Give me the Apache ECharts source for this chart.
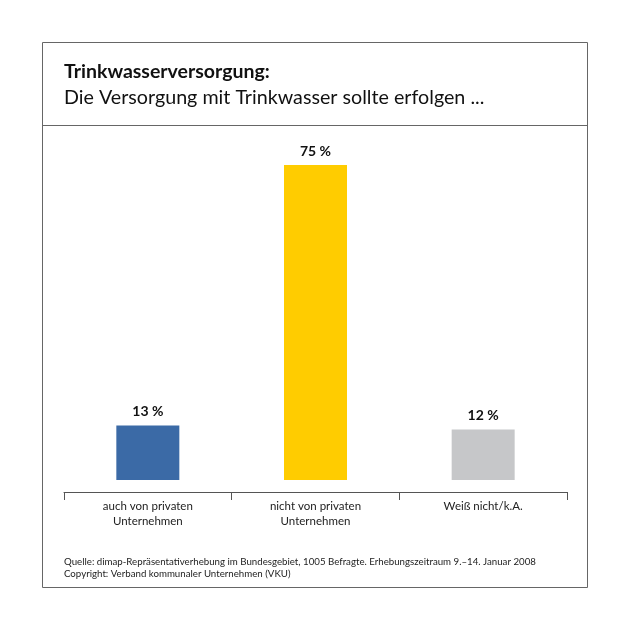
<!DOCTYPE html>
<html><head><meta charset="utf-8">
<script src="https://cdn.jsdelivr.net/npm/echarts@6/dist/echarts.min.js"></script>
<style>html,body{margin:0;padding:0;background:#fff}#c{width:630px;height:630px}</style>
</head><body><div id="c"></div>
<script>
const categories = ['auch von privaten\nUnternehmen', 'nicht von privaten\nUnternehmen', 'Weiß nicht/k.A.'];
const values = [13, 75, 12];
const colors = ['#3b6aa6', '#ffcc00', '#c6c7c9'];
const titleText = 'Trinkwasserversorgung:';
const subtitleText = 'Die Versorgung mit Trinkwasser sollte erfolgen ...';
const sourceLines = ['Quelle: dimap-Repräsentativerhebung im Bundesgebiet, 1005 Befragte. Erhebungszeitraum 9.–14. Januar 2008', 'Copyright: Verband kommunaler Unternehmen (VKU)'];

const FONT = 'Lato';
const chart = echarts.init(document.getElementById('c'));
chart.setOption({
  animation: false,
  grid: { left: 64, right: 63, top: 144, bottom: 150 },
  xAxis: {
    type: 'category', data: categories, offset: 12,
    axisLine: { onZero: false, lineStyle: { color: '#555', width: 1 } },
    axisTick: { show: true, inside: false, length: 8, lineStyle: { color: '#555' } },
    axisLabel: { color: '#222', fontFamily: FONT, fontSize: 11.5, lineHeight: 15, margin: 7 }
  },
  yAxis: { type: 'value', min: 0, max: 80, show: false, splitLine: { show: false } },
  series: [{
    type: 'bar', barWidth: 63,
    data: values.map((v, i) => ({ value: v, itemStyle: { color: colors[i] } })),
    label: { show: true, position: 'top', distance: 7, formatter: p => p.value + ' %', color: '#111', fontFamily: FONT, fontSize: 14, fontWeight: 'bold' }
  }],
  graphic: [
    { type: 'rect', shape: { x: 42.5, y: 42.5, width: 545, height: 545 }, style: { fill: 'none', stroke: '#666', lineWidth: 1 } },
    { type: 'line', shape: { x1: 42.5, y1: 125.5, x2: 587.5, y2: 125.5 }, style: { stroke: '#666', lineWidth: 1 } },
    { type: 'text', x: 64, y: 72, style: { text: titleText, fontFamily: FONT, fontSize: 19.5, fontWeight: 'bold', fill: '#111', verticalAlign: 'middle' } },
    { type: 'text', x: 64, y: 98, style: { text: subtitleText, fontFamily: FONT, fontSize: 19.7, fill: '#111', verticalAlign: 'middle' } },
    { type: 'text', x: 64, y: 562, style: { text: sourceLines[0], fontFamily: FONT, fontSize: 9.7, fill: '#222', verticalAlign: 'middle' } },
    { type: 'text', x: 64, y: 574, style: { text: sourceLines[1], fontFamily: FONT, fontSize: 9.7, fill: '#222', verticalAlign: 'middle' } }
  ]
});
</script></body></html>
